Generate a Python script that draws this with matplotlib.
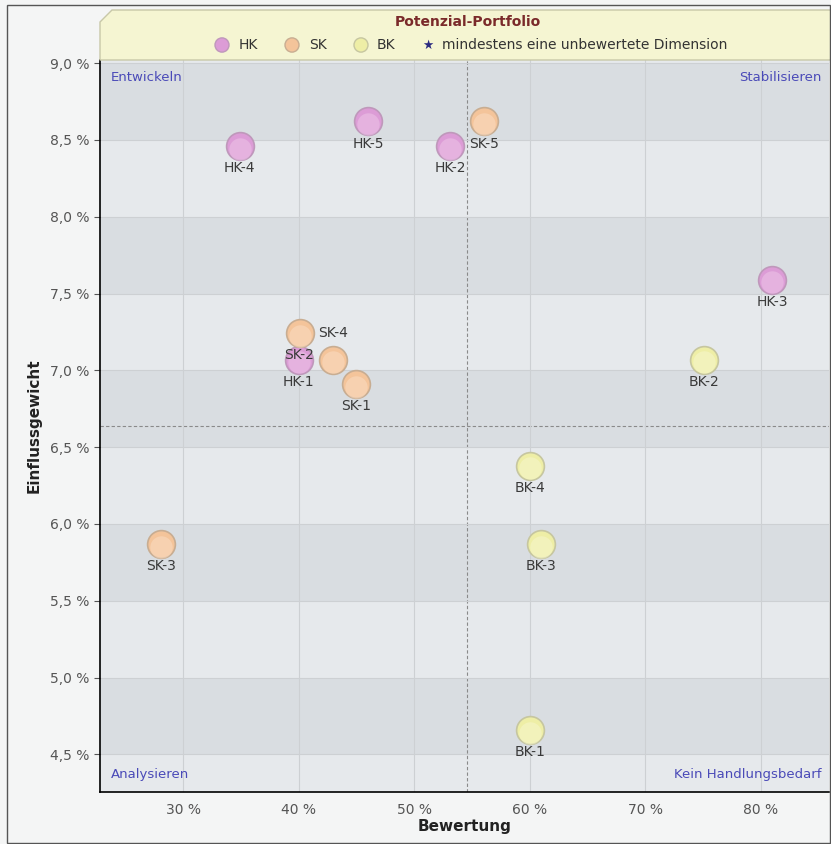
import numpy as np
import matplotlib.pyplot as plt
from matplotlib.patches import Polygon, Rectangle
from matplotlib.ticker import FuncFormatter

# data
names = ['HK-1', 'HK-2', 'HK-3', 'HK-4', 'HK-5',
         'SK-1', 'SK-2', 'SK-3', 'SK-4', 'SK-5',
         'BK-1', 'BK-2', 'BK-3', 'BK-4']
groups = ['HK'] * 5 + ['SK'] * 5 + ['BK'] * 4
bewertung = [40.0, 53.1, 81.0, 34.9, 46.0,
             45.0, 43.0, 28.1, 40.1, 56.0,
             60.0, 75.1, 61.0, 60.0]
einfluss = [7.07, 8.46, 7.59, 8.46, 8.62,
            6.91, 7.07, 5.87, 7.24, 8.62,
            4.66, 7.07, 5.87, 6.38]
x_mid = 54.6
y_mid = 6.635

face = {'HK': '#dc9cd6', 'SK': '#f4c49a', 'BK': '#eeeea6'}
light = {'HK': '#f0cdec', 'SK': '#fbe2cc', 'BK': '#f8f8d6'}
edge = {'HK': '#bf98bb', 'SK': '#c8ad92', 'BK': '#c6c6a0'}
# label offsets (points) - most below the bubble
offs = {n: (0, -16) for n in names}
offs['SK-4'] = (24, 0)
offs['SK-2'] = (-25, 3)

fig = plt.figure(figsize=(8.31, 8.44), dpi=100)
fig.patch.set_facecolor('#f4f5f5')
ax = fig.add_axes([100 / 831, 1 - 792 / 844, 729 / 831, 732 / 844])
ax.set_xlim(22.8, 85.9)
ax.set_ylim(4.255, 9.02)
ax.set_facecolor('#e6e9ec')

# horizontal bands
for lo in [8.5, 7.5, 6.5, 5.5, 4.5]:
    ax.axhspan(lo, lo + 0.5, color='#d9dde1', zorder=0, lw=0)
ax.grid(True, color='#cdd0d3', lw=0.8, zorder=1)
ax.axvline(x_mid, color='#8a8a8a', ls=(0, (3, 2)), lw=0.8, zorder=1)
ax.axhline(y_mid, color='#8a8a8a', ls=(0, (3, 2)), lw=0.8, zorder=1)

for n, g, x, y in zip(names, groups, bewertung, einfluss):
    ax.scatter(x, y, s=400, c=face[g], edgecolors=edge[g], linewidths=1.2, zorder=3)
    ax.scatter(x, y - 0.018, s=260, c=light[g], alpha=0.45, lw=0, zorder=4)
    dx, dy = offs[n]
    ax.annotate(n, (x, y), xytext=(dx, dy), textcoords='offset points',
                ha='center', va='center', fontsize=10, color='#3a3a3a', zorder=5)

ax.set_xticks([30, 40, 50, 60, 70, 80])
ax.set_yticks(np.arange(4.5, 9.01, 0.5))
ax.xaxis.set_major_formatter(FuncFormatter(lambda v, p: '%d %%' % v))
ax.yaxis.set_major_formatter(FuncFormatter(lambda v, p: ('%.1f %%' % v).replace('.', ',')))
ax.tick_params(colors='#555555', labelsize=10, length=4)
ax.tick_params(axis='x', colors='#555555', length=0, pad=8)
for s in ['top', 'right']:
    ax.spines[s].set_visible(False)
ax.spines['left'].set_linewidth(1.2)
ax.spines['bottom'].set_linewidth(1.2)
ax.set_xlabel('Bewertung', fontsize=11, fontweight='bold', color='#222222', labelpad=1)
ax.set_ylabel('Einflussgewicht', fontsize=11, fontweight='bold', color='#222222', labelpad=6)

qc = '#4a4ab8'
ax.text(0.015, 0.985, 'Entwickeln', transform=ax.transAxes, ha='left', va='top', color=qc, fontsize=9.5)
ax.text(0.99, 0.985, 'Stabilisieren', transform=ax.transAxes, ha='right', va='top', color=qc, fontsize=9.5)
ax.text(0.015, 0.015, 'Analysieren', transform=ax.transAxes, ha='left', va='bottom', color=qc, fontsize=9.5)
ax.text(0.99, 0.015, 'Kein Handlungsbedarf', transform=ax.transAxes, ha='right', va='bottom', color=qc, fontsize=9.5)

# legend box on top
W, H = 831, 844
def fx(px):
    return px / W
def fy(py):
    return 1 - py / H
box = Polygon([(fx(100), fy(60)), (fx(100), fy(22)), (fx(112), fy(10)),
               (fx(831), fy(10)), (fx(831), fy(60))], closed=True,
              transform=fig.transFigure, facecolor='#f5f5d2', edgecolor='#c8c8a8', lw=1)
fig.patches.append(box)
fig.text(fx(468), fy(22), 'Potenzial-Portfolio', ha='center', va='center',
         fontsize=10, fontweight='bold', color='#7a2a2a')
lg_y = fy(45)
for g, px, tx in [('HK', 222, 239), ('SK', 292, 309), ('BK', 361, 377)]:
    fig.patches.append(plt.Circle((fx(px), lg_y), 7 / W, transform=fig.transFigure,
                                  facecolor=face[g], edgecolor=edge[g], lw=1))
    fig.text(fx(tx), lg_y, g, ha='left', va='center', fontsize=10, color='#333333')
fig.text(fx(428), lg_y, '\u2605', ha='center', va='center', fontsize=9, color='#2a2a80')
fig.text(fx(442), lg_y, 'mindestens eine unbewertete Dimension', ha='left', va='center',
         fontsize=10, color='#333333')

# outer frame
fig.patches.append(Rectangle((fx(7), fy(843)), fx(830) - fx(7), fy(5) - fy(843),
                             transform=fig.transFigure, fill=False, edgecolor='#555555', lw=1))

fig.savefig('out.png', dpi=100, facecolor=fig.get_facecolor())
